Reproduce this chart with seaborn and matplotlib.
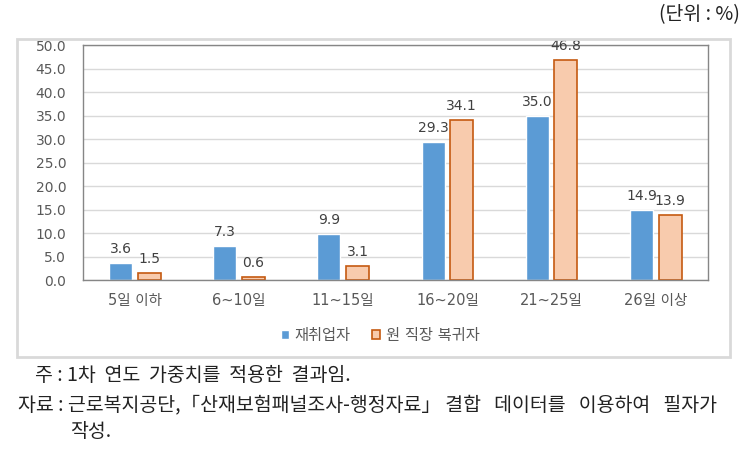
import matplotlib
matplotlib.use('Agg')
import matplotlib.pyplot as plt
import pandas as pd
import seaborn as sns
from matplotlib.patches import Rectangle

categories = ['5일 이하', '6~10일', '11~15일', '16~20일', '21~25일', '26일 이상']
series_names = ['재취업자', '원 직장 복귀자']
reemployed = [3.6, 7.3, 9.9, 29.3, 35.0, 14.9]
returned = [1.5, 0.6, 3.1, 34.1, 46.8, 13.9]
y_ticks = [0, 5, 10, 15, 20, 25, 30, 35, 40, 45, 50]

unit_text = '(단위 : %)'
note_text = '주 : 1차  연도  가중치를  적용한  결과임.'
source_text = '자료 : 근로복지공단,「산재보험패널조사-행정자료」 결합   데이터를   이용하여   필자가'
source_text2 = '작성.'

df = pd.DataFrame({
    'category': categories * 2,
    'value': reemployed + returned,
    'series': [series_names[0]] * len(categories) + [series_names[1]] * len(categories),
})

sns.set_style('white')
plt.rcParams['font.family'] = ['DejaVu Sans', 'Noto Sans CJK KR']

fig = plt.figure(figsize=(7.53, 4.51), dpi=100)
ax = fig.add_axes([0.110, 0.379, 0.830, 0.521])

# outer chart frame
fig.patches.append(Rectangle((0.022, 0.208), 0.948, 0.706, transform=fig.transFigure,
                             fill=False, edgecolor='#D9D9D9', linewidth=2, zorder=0))

palette = {series_names[0]: '#5B9BD5', series_names[1]: '#F8CBAD'}
sns.barplot(data=df, x='category', y='value', hue='series', order=categories,
            hue_order=series_names, palette=palette, width=0.55, gap=0.2,
            saturation=1, ax=ax, legend=True)

# outline on the second series
for bar in ax.containers[1]:
    bar.set_edgecolor('#C55A11')
    bar.set_linewidth(1.2)

for cont in ax.containers:
    ax.bar_label(cont, fmt='%.1f', padding=5, fontsize=10, color='#404040')

ax.set_ylim(0, 50)
ax.set_yticks(y_ticks)
ax.set_yticklabels([f'{v:.1f}' for v in y_ticks], fontsize=10, color='#595959')
ax.tick_params(axis='x', labelsize=10.5, labelcolor='#595959', length=0, pad=9)
ax.tick_params(axis='y', length=0, pad=12)
ax.set_xlabel('')
ax.set_ylabel('')
ax.yaxis.grid(True, color='#D9D9D9', linewidth=1)
ax.set_axisbelow(True)
for side in ['left', 'right', 'top', 'bottom']:
    ax.spines[side].set_color('#868686')
    ax.spines[side].set_linewidth(1)

leg = ax.legend(loc='center', bbox_to_anchor=(0.505, 0.257), bbox_transform=fig.transFigure,
                ncol=2, frameon=False, fontsize=11, handlelength=0.55, handleheight=0.55,
                columnspacing=1.4, handletextpad=0.35)
for txt in leg.get_texts():
    txt.set_color('#595959')
leg.legend_handles[1].set_edgecolor('#C55A11')
leg.legend_handles[1].set_linewidth(1.2)

fig.text(0.982, 0.99, unit_text, ha='right', va='top', fontsize=14,
         family=['Noto Sans CJK KR'], color='#222222')
fig.text(0.047, 0.168, note_text, ha='left', va='center', fontsize=14,
         family=['Noto Sans CJK KR'], color='#222222')
fig.text(0.024, 0.103, source_text, ha='left', va='center', fontsize=14,
         family=['Noto Sans CJK KR'], color='#222222')
fig.text(0.093, 0.043, source_text2, ha='left', va='center', fontsize=14,
         family=['Noto Sans CJK KR'], color='#222222')

fig.savefig('out.png', dpi=100)
